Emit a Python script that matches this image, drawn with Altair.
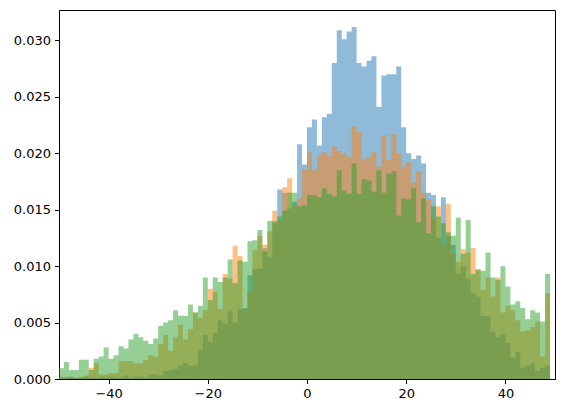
import altair as alt
import pandas as pd

# bin left edges: -50 .. 48 (width 1), density values
edges = list(range(-50, 49))

blue = [0.0001,0.0001,0.0002,0.0001,0.0001,0.0002,0.0001,0.0001,0.0002,0.0001,0.0002,0.0001,
        0.0001,0.0003,0.0001,0.0002,0.0002,0.0001,0.0004,0.0004,0.0003,0.0007,0.0008,0.0009,0.0012,
        0.0014,0.0012,0.0012,0.0026,0.0039,0.0033,0.0041,0.0052,0.0049,0.0060,0.0050,0.0062,
        0.0063,0.0092,0.0098,0.0098,0.0116,0.0108,0.0138,0.0168,0.0165,0.0151,0.0157,
        0.0208,0.0190,0.0223,0.0230,0.0207,0.0232,0.0235,0.0280,0.0309,0.0301,0.0308,0.0312,0.0280,
        0.0277,0.0282,0.0286,0.0241,0.0269,0.0270,0.0270,0.0277,0.0223,0.0200,0.0195,0.0198,
        0.0191,0.0165,0.0163,0.0125,0.0161,0.0127,0.0119,0.0093,0.0100,0.0089,0.0076,
        0.0073,0.0056,0.0056,0.0042,0.0037,0.0040,0.0032,0.0019,0.0024,0.0010,0.0012,0.0014,0.0007,0.0010,0.0012]

orange = [0.0002,0.0002,0.0001,0.0001,0.0002,0.0003,0.0010,0.0014,0.0004,0.0004,0.0005,0.0005,
          0.0016,0.0016,0.0016,0.0014,0.0014,0.0017,0.0021,0.0020,0.0031,0.0039,0.0025,0.0037,0.0048,
          0.0035,0.0044,0.0059,0.0054,0.0061,0.0080,0.0077,0.0062,0.0093,0.0089,0.0118,0.0109,
          0.0062,0.0078,0.0114,0.0127,0.0119,0.0131,0.0149,0.0140,0.0170,0.0178,0.0153,
          0.0160,0.0186,0.0201,0.0185,0.0198,0.0201,0.0198,0.0206,0.0202,0.0200,0.0197,0.0224,0.0219,
          0.0195,0.0197,0.0201,0.0188,0.0216,0.0194,0.0217,0.0200,0.0188,0.0192,0.0174,0.0184,
          0.0165,0.0159,0.0142,0.0153,0.0119,0.0155,0.0111,0.0104,0.0115,0.0112,0.0116,
          0.0097,0.0079,0.0090,0.0073,0.0090,0.0059,0.0065,0.0061,0.0052,0.0042,0.0043,0.0046,0.0051,0.0020,0.0076]

green = [0.00095,0.0015,0.0008,0.0008,0.0017,0.0017,0.0008,0.0018,0.0020,0.0028,0.0018,0.0021,
         0.0029,0.0027,0.0035,0.0040,0.0037,0.0034,0.0031,0.0036,0.0047,0.0050,0.0052,0.0061,0.0056,
         0.0056,0.0066,0.0059,0.0065,0.0090,0.0070,0.0090,0.0086,0.0090,0.0106,0.0085,0.0105,
         0.0104,0.0122,0.0123,0.0132,0.0113,0.0140,0.0140,0.0144,0.0149,0.0165,0.0165,
         0.0153,0.0154,0.0163,0.0163,0.0161,0.0169,0.0164,0.0162,0.0185,0.0167,0.0164,0.0191,0.0164,
         0.0177,0.0176,0.0166,0.0185,0.0165,0.0182,0.0184,0.0145,0.0160,0.0159,0.0169,0.0139,
         0.0160,0.0129,0.0153,0.0144,0.0138,0.0130,0.0127,0.0143,0.0111,0.0141,0.0093,
         0.0097,0.0096,0.0112,0.0090,0.0088,0.0100,0.0082,0.0066,0.0069,0.0063,0.0053,0.0061,0.0059,0.0051,0.0093]

series = [("a", blue, "#1f77b4"), ("b", orange, "#ff7f0e"), ("c", green, "#2ca02c")]

layers = []
for name, vals, col in series:
    xs = edges + [edges[-1] + 1]
    ys = vals + [vals[-1]]
    df = pd.DataFrame({"x": xs, "y": ys})
    layers.append(
        alt.Chart(df).mark_area(interpolate="step-after", color=col, fillOpacity=0.5, clip=True)
        .encode(
            x=alt.X("x:Q", scale=alt.Scale(domain=[-50, 50], nice=False, zero=False),
                    axis=alt.Axis(values=[-40, -20, 0, 20, 40], title=None, grid=False, format="d")),
            y=alt.Y("y:Q", stack=None, scale=alt.Scale(domain=[0, 0.0327], nice=False),
                    axis=alt.Axis(values=[0, 0.005, 0.01, 0.015, 0.02, 0.025, 0.03], format=".3f",
                                  title=None, grid=False)),
        )
    )

chart = alt.layer(*layers).properties(
    width=496, height=369,
    autosize=alt.AutoSizeParams(type="none"),
    padding={"left": 51, "top": 2, "right": 2, "bottom": 26},
).configure_view(stroke="black", strokeWidth=1).configure_axis(
    domainColor="black", tickColor="black", tickSize=4.5, labelFont="DejaVu Sans",
    labelFontSize=13, labelColor="black", labelPadding=4, domainWidth=1, tickWidth=1,
)

chart.save("out.html", embed_options={"renderer": "svg", "actions": False})
